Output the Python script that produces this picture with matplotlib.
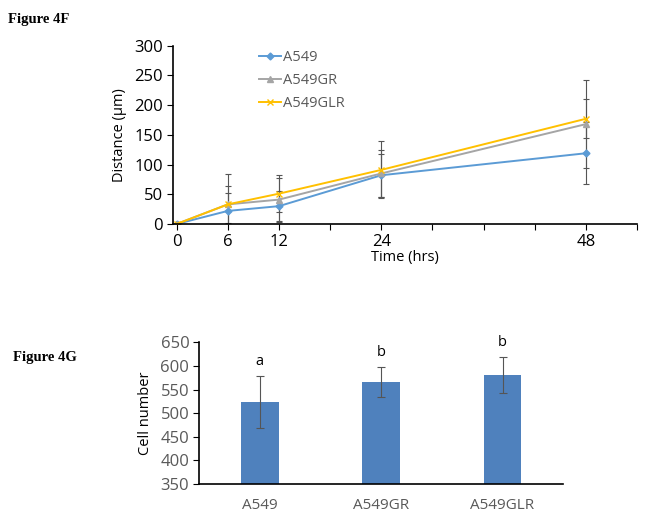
import matplotlib
matplotlib.use("Agg")
import matplotlib.pyplot as plt

# --------------------------
# Data: Figure 4F (migration distance)
# --------------------------
hours = [0, 6, 12, 24, 48]
a549 = [0, 22, 30, 82, 119]
a549_err = [0, 30, 25, 36, 52]
a549gr = [0, 33, 41, 85, 168]
a549gr_err = [0, 31, 37, 40, 74]
a549glr = [0, 33, 51, 91, 177]
a549glr_err = [0, 51, 31, 48, 33]
hour_labels = ["0", "6", "12", "24", "48"]

# Data: Figure 4G (cell number)
cell_lines = ["A549", "A549GR", "A549GLR"]
cell_counts = [523, 566, 581]
cell_err = [55, 32, 38]
sig_letters = ["a", "b", "b"]

font = "Open Sans"
plt.rcParams["font.family"] = [font, "DejaVu Sans"]
grey_text = "#595959"

fig = plt.figure(figsize=(6.45, 5.18), dpi=100)

# --------------------------
# Figure 4F: line chart
# --------------------------
ax1 = fig.add_axes([0.2677, 0.5676, 0.9876 - 0.2677, 0.9118 - 0.5676])
series = [
    ("A549", a549, a549_err, "#5B9BD5", "D", 3.5),
    ("A549GR", a549gr, a549gr_err, "#A5A5A5", "^", 4.5),
    ("A549GLR", a549glr, a549glr_err, "#FFC000", "x", 4),
]
handles = []
for name, vals, errs, col, mk, ms in series:
    cont = ax1.errorbar(hours, vals, yerr=errs, color=col, lw=1.4, marker=mk, ms=ms,
                        ecolor="#555555", elinewidth=0.8, capsize=2.5, capthick=0.8,
                        label=name)
    handles.append(cont[0])

ax1.set_xlim(-0.47, 54)
ax1.set_ylim(0, 300)
ax1.set_yticks(range(0, 301, 50))
ax1.set_xticks(range(0, 55, 6))
ax1.set_xticklabels([str(h) if str(h) in hour_labels else "" for h in range(0, 55, 6)])
ax1.tick_params(labelsize=12, direction="out", length=4, width=0.8, colors="black", pad=3)
for s in ["top", "right"]:
    ax1.spines[s].set_visible(False)
for s in ["left", "bottom"]:
    ax1.spines[s].set_linewidth(1.2)
ax1.set_ylabel("Distance (\u00b5m)", fontsize=10.5, labelpad=5)
ax1.set_xlabel("Time (hrs)", fontsize=10.5, labelpad=0)
ax1.legend(handles, [s[0] for s in series], loc="upper left",
           bbox_to_anchor=(0.158, 1.05), frameon=False,
           fontsize=10.5, handlelength=1.5, handletextpad=0.15, labelspacing=0.55,
           labelcolor=grey_text)

fig.text(0.012, 0.975, "Figure 4F", family="Liberation Serif", weight="bold",
         fontsize=10.5, va="top")

# --------------------------
# Figure 4G: bar chart
# --------------------------
ax2 = fig.add_axes([0.3085, 0.0656, 0.8733 - 0.3085, 0.3392 - 0.0656])
xpos = range(len(cell_lines))
ax2.bar(xpos, cell_counts, width=0.31, color="#4F81BD",
        yerr=cell_err, ecolor="#555555", error_kw=dict(elinewidth=0.8, capsize=3, capthick=0.8))
for x, v, e, letter in zip(xpos, cell_counts, cell_err, sig_letters):
    ax2.annotate(letter, (x, v + e), xytext=(0, 5), textcoords="offset points",
                 ha="center", va="bottom", fontsize=10.5)

ax2.set_xlim(-0.5, 2.5)
ax2.set_ylim(350, 650)
ax2.set_yticks(range(350, 651, 50))
ax2.set_xticks(list(xpos))
ax2.set_xticklabels(cell_lines)
ax2.tick_params(axis="y", labelsize=12, direction="out", length=4, width=0.8, labelcolor=grey_text, pad=3)
ax2.tick_params(axis="x", labelsize=11, length=0, pad=10, labelcolor=grey_text)
for s in ["top", "right"]:
    ax2.spines[s].set_visible(False)
for s in ["left", "bottom"]:
    ax2.spines[s].set_linewidth(1.2)
ax2.set_ylabel("Cell number", fontsize=10.5, labelpad=5)

fig.text(0.020, 0.309, "Figure 4G", family="Liberation Serif", weight="bold",
         fontsize=10.5, va="center")

fig.savefig("out.png", dpi=100)
